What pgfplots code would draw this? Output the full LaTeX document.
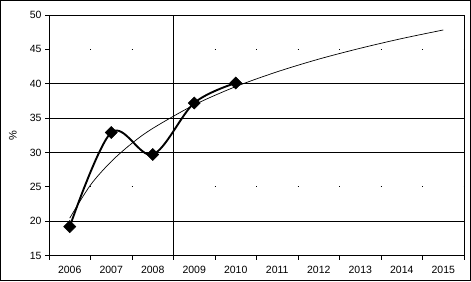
\documentclass[border=0pt]{standalone}
\usepackage{pgfplots}
\pgfplotsset{compat=1.18}
\usepackage{fontspec}
\setmainfont{Liberation Sans}
\begin{document}
\begin{tikzpicture}[x=1pt,y=1pt]
\begin{axis}[
  at={(0,0)}, anchor=south west,
  width=415pt, height=240.5pt, scale only axis,
  xmin=0, xmax=10, ymin=15, ymax=50,
  ytick={15,20,...,50},
  xtick={0.5,1.5,...,9.5},
  xticklabels={2006,2007,2008,2009,2010,2011,2012,2013,2014,2015},
  minor xtick={0,1,...,10},
  major x tick style={draw=none},
  minor tick length=4pt,
  major tick length=4pt,
  tick align=outside,
  xtick pos=bottom, ytick pos=left,
  tick style={black, line width=0.8pt},
  axis line style={line width=0.9pt},
  ticklabel style={font=\fontsize{10.5}{12}\selectfont},
  /pgf/number format/assume math mode=true,
  xticklabel style={yshift=-3pt},
  ylabel={\%},
  ylabel style={font=\fontsize{11}{13}\selectfont},
  every axis y label/.append style={at={(axis description cs:-0.087,0.5)},anchor=center},
  clip=false,
]
% grid lines
\foreach \yy in {20,30,35,40}{
  \edef\temp{\noexpand\draw[line width=0.9pt] (axis cs:0,\yy) -- (axis cs:10,\yy);}
  \temp
}
\foreach \yy in {25,45}{
  \edef\temp{\noexpand\draw[line width=0.9pt, dash pattern=on 1pt off 40.5pt, dash phase=0.5pt] (axis cs:0,\yy) -- (axis cs:10,\yy);}
  \temp
}
\draw[line width=0.9pt] (axis cs:3,15) -- (axis cs:3,50);
% trend line
\addplot[black, line width=0.7pt, smooth, no marks] coordinates {
(0.5,20.44) (1.0,25.26) (1.5,28.68) (2.0,31.34) (2.5,33.50) (3.5,36.92)
(4.5,39.58) (5.5,41.74) (6.5,43.58) (7.5,45.16) (8.5,46.57) (9.5,47.82)};
% data
\addplot[black, line width=1.9pt, smooth, tension=0.55, mark=square*, mark size=4.3pt,
  mark options={rotate=45, solid, line width=0.5pt}] coordinates {
(0.5,19.2) (1.5,32.9) (2.5,29.7) (3.5,37.2) (4.5,40.1)};
\end{axis}
\draw[line width=1pt] (-48.5,-25) rectangle (421.5,255);
\pgfresetboundingbox
\useasboundingbox (-49,-25.5) rectangle (422,255.5);
\end{tikzpicture}
\end{document}
